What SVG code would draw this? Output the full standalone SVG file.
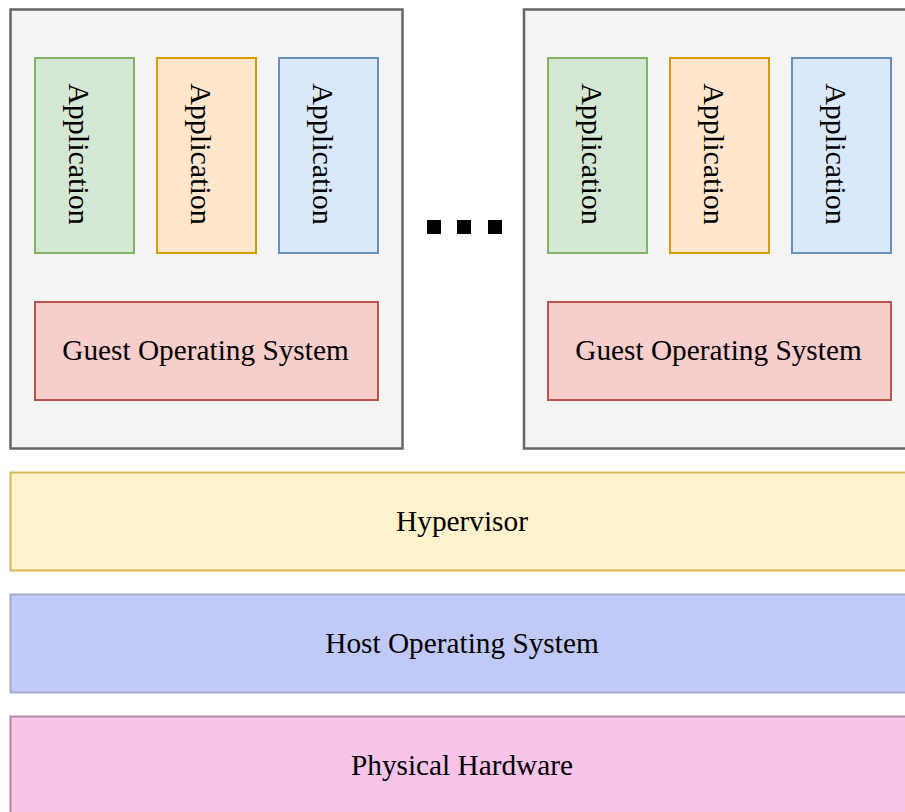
<svg xmlns="http://www.w3.org/2000/svg" width="905" height="812" viewBox="0 0 905 812">
<style>
text{font-family:"Liberation Serif","Times New Roman",serif;font-size:29.3px;fill:#000;text-anchor:middle;dominant-baseline:central}
.app{font-size:30px}
.vm{fill:#f4f4f4;stroke:#666666;stroke-width:2.5}
.g{fill:#d5e8d4;stroke:#82b366;stroke-width:2}
.o{fill:#ffe6cc;stroke:#d79b00;stroke-width:2}
.b{fill:#dae8fc;stroke:#6c8ebf;stroke-width:2}
.r{fill:#f8cecc;stroke:#b85450;stroke-width:2}
.hv{fill:#fff2cc;stroke:#d6b656;stroke-width:2}
.ho{fill:#c1c9f6;stroke:#a3aad4;stroke-width:2}
.ph{fill:#f7c4ea;stroke:#b386a6;stroke-width:2}
</style>
<g id="vm1">
<rect class="vm" x="10.5" y="9.5" width="392" height="439"/>
</g>
<g id="app1"><rect class="g" x="35" y="58" width="99" height="195"/><text class="app" transform="translate(79,154) rotate(90)">Application</text></g>
<g id="app2"><rect class="o" x="157" y="58" width="99" height="195"/><text class="app" transform="translate(201,154) rotate(90)">Application</text></g>
<g id="app3"><rect class="b" x="279" y="58" width="99" height="195"/><text class="app" transform="translate(323,154) rotate(90)">Application</text></g>
<g id="guest1"><rect class="r" x="35" y="302" width="343" height="98"/><text x="205.5" y="350">Guest Operating System</text></g>
<g id="dots">
<rect x="427" y="220" width="14" height="14" fill="#000"/>
<rect x="457" y="220" width="14" height="14" fill="#000"/>
<rect x="488" y="220" width="14" height="14" fill="#000"/>
</g>
<g id="vm2">
<rect class="vm" x="524" y="9.5" width="392" height="439"/>
</g>
<g id="app4"><rect class="g" x="548" y="58" width="99" height="195"/><text class="app" transform="translate(592,154) rotate(90)">Application</text></g>
<g id="app5"><rect class="o" x="670" y="58" width="99" height="195"/><text class="app" transform="translate(714,154) rotate(90)">Application</text></g>
<g id="app6"><rect class="b" x="792" y="58" width="99" height="195"/><text class="app" transform="translate(836,154) rotate(90)">Application</text></g>
<g id="guest2"><rect class="r" x="548" y="302" width="343" height="98"/><text x="718.5" y="350">Guest Operating System</text></g>
<g id="hypervisor"><rect class="hv" x="10.5" y="472.5" width="903" height="98"/><text x="462" y="521">Hypervisor</text></g>
<g id="hostos"><rect class="ho" x="10.5" y="594.5" width="903" height="98"/><text x="462" y="643">Host Operating System</text></g>
<g id="hardware"><rect class="ph" x="10.5" y="716.5" width="903" height="110"/><text x="462" y="765">Physical Hardware</text></g>
<g id="connectors"/>
</svg>
